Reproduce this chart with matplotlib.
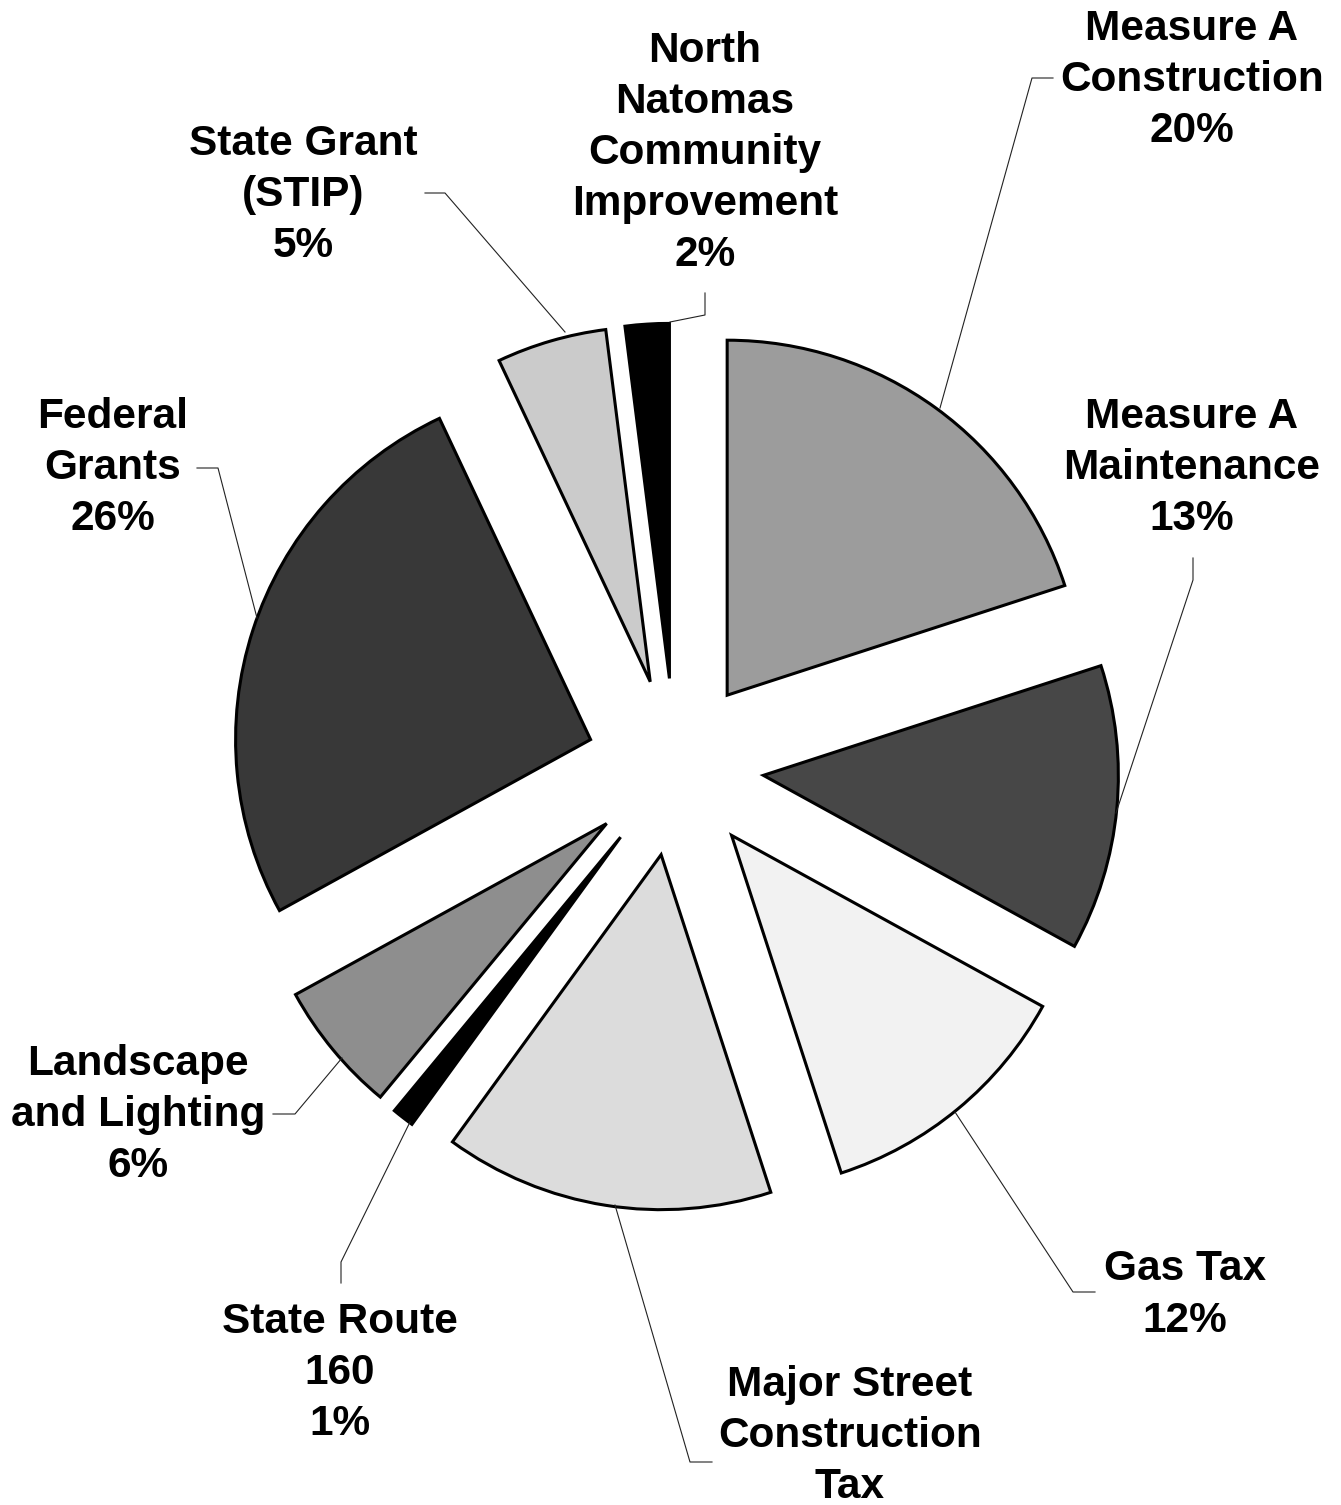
import matplotlib.pyplot as plt

plt.rcParams["font.family"] = ["Liberation Sans", "DejaVu Sans"]

W, H = 1341, 1505
R = 355

# data
sources = ["Measure A\nConstruction", "Measure A\nMaintenance", "Gas Tax",
           "Major Street\nConstruction\nTax", "State Route\n160",
           "Landscape\nand Lighting", "Federal\nGrants", "State Grant\n(STIP)",
           "North\nNatomas\nCommunity\nImprovement"]
shares = [20, 13, 12, 15, 1, 6, 26, 5, 2]
# the percentage of Major Street falls below the page edge in the original
show_pct = [True, True, True, False, True, True, True, True, True]

# styles
fills = ["#9c9c9c", "#474747", "#f2f2f2", "#dcdcdc", "#000000",
         "#8e8e8e", "#383838", "#cbcbcb", "#000000"]

# label block centres and leader paths (pixel coords, y down)
label_xy = [(1192, 80), (1192, 468), (1185, 1295), (850, 1436), (340, 1373),
            (138, 1115), (113, 468), (303, 195), (705, 153)]
leaders = [
    [(1053, 78), (1032, 78), (940, 408)],
    [(1193, 558), (1193, 580), (1116, 813)],
    [(1095, 1292), (1073, 1292), (955, 1112)],
    [(712, 1462), (690, 1462), (615, 1205)],
    [(341, 1283), (341, 1262), (410, 1122)],
    [(273, 1114), (295, 1114), (342, 1058)],
    [(197, 468), (218, 468), (257, 618)],
    [(425, 193), (445, 193), (565, 332)],
    [(705, 293), (705, 315), (670, 322)],
]

fig = plt.figure(figsize=(W / 100, H / 100), dpi=100)
ax = fig.add_axes([0, 0, 1, 1])

ax.pie(shares, colors=fills, startangle=90, counterclock=False,
       radius=R, center=(675, H - 767), explode=[0.25 * R] * len(shares),
       wedgeprops=dict(edgecolor="black", linewidth=2.2), frame=True)
ax.set_xlim(0, W)
ax.set_ylim(0, H)
ax.set_aspect("equal")
ax.axis("off")

for name, pct, show, (x, y), path in zip(sources, shares, show_pct, label_xy, leaders):
    txt = f"{name}\n{pct}%" if show else name
    ax.text(x, H - y, txt, ha="center", va="center",
            multialignment="center", fontsize=30.5, fontweight="bold",
            linespacing=1.36)
    ax.plot([p[0] for p in path], [H - p[1] for p in path],
            color="#222222", linewidth=0.8)

fig.savefig("out.png", dpi=100, facecolor="white")
